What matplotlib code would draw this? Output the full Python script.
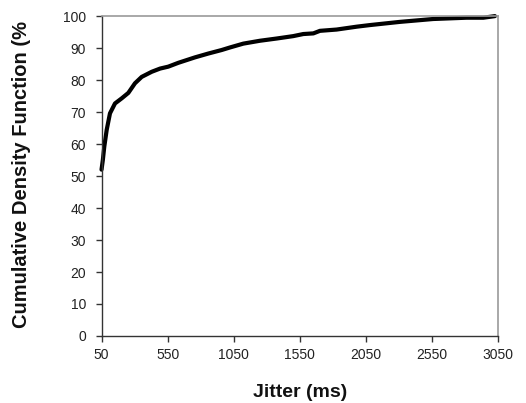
import numpy as np
import matplotlib
matplotlib.use("Agg")
import matplotlib.pyplot as plt

plt.rcParams['font.family'] = ['Liberation Sans', 'DejaVu Sans']

# values
jitter = [50, 60, 71, 89, 114, 152, 203, 253, 303, 354, 430, 493, 555, 631,
          757, 858, 959, 1022, 1123, 1249, 1376, 1501, 1577, 1653, 1703, 1829,
          1981, 2081, 2308, 2560, 2812, 2939, 3027]
cdf = [52, 55, 59.2, 64.4, 69.6, 72.7, 74.3, 76.0, 79.0, 81.0, 82.6, 83.6,
       84.2, 85.4, 87.1, 88.3, 89.4, 90.2, 91.4, 92.3, 93.0, 93.75, 94.4, 94.6,
       95.4, 95.8, 96.7, 97.2, 98.2, 99.1, 99.5, 99.5, 100]

xticks = [50, 550, 1050, 1550, 2050, 2550, 3050]
yticks = list(range(0, 101, 10))

fig = plt.figure(figsize=(5.26, 4.03), dpi=100)
ax = fig.add_axes([0.193, 0.1663, 0.7537, 0.7937])

ax.plot(jitter, cdf, color='black', lw=3, solid_capstyle='round',
        solid_joinstyle='round', clip_on=False)

ax.set_xlim(50, 3050)
ax.set_ylim(0, 100)
ax.set_xticks(xticks)
ax.set_yticks(yticks)

for s in ['left', 'bottom']:
    ax.spines[s].set_color('#333333')
    ax.spines[s].set_linewidth(1.0)
for s in ['top', 'right']:
    ax.spines[s].set_color('#999999')
    ax.spines[s].set_linewidth(1.2)

ax.tick_params(axis='both', direction='out', length=4, width=1,
               color='#333333', labelsize=10, labelcolor='#222222')
ax.tick_params(axis='x', pad=5)
ax.tick_params(axis='y', pad=7)

fig.text(300.5 / 526, 1 - 397 / 403, 'Jitter (ms)', fontsize=14,
         fontweight='bold', ha='center', va='baseline', color='#111111')
fig.text(22 / 526, 1 - 328 / 403, 'Cumulative Density Function (%',
         fontsize=14.5, fontweight='bold', rotation=90, ha='center',
         va='bottom', color='#111111')

fig.savefig('out.png', dpi=100)
